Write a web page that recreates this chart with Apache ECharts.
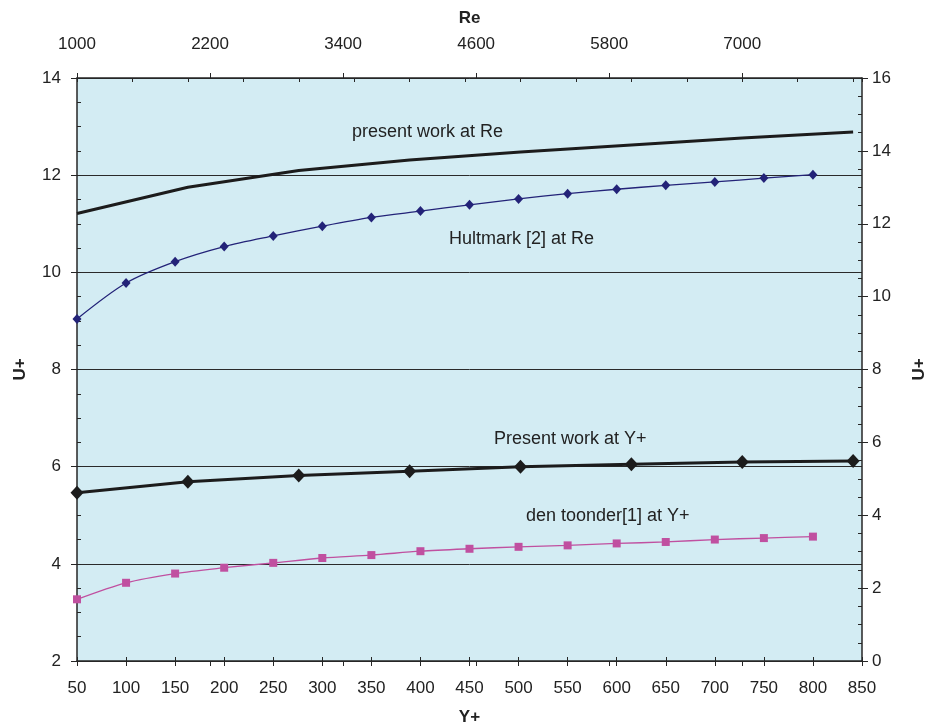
<!DOCTYPE html>
<html>
<head>
<meta charset="utf-8">
<script src="https://cdn.jsdelivr.net/npm/echarts@6/dist/echarts.min.js"></script>
<style>
  html, body { margin: 0; padding: 0; background: #ffffff; }
  #chart { width: 925px; height: 726px; }
</style>
</head>
<body>
<div id="chart"></div>
<script>
// Wall-unit velocity U+ versus Y+ (bottom axis) and Reynolds number (top axis)

// Y+ stations shared by the two reference data sets
const yPlus = [50, 100, 150, 200, 250, 300, 350, 400, 450, 500, 550, 600, 650, 700, 750, 800];
// Hultmark [2] at Re (left U+ axis)
const hultmark = [9.04, 9.78, 10.22, 10.53, 10.75, 10.95, 11.13, 11.26, 11.39, 11.51, 11.62, 11.71, 11.79, 11.86, 11.94, 12.01];
// den toonder [1] at Y+ (left U+ axis)
const denToonder = [3.27, 3.61, 3.80, 3.92, 4.02, 4.12, 4.18, 4.26, 4.31, 4.35, 4.38, 4.42, 4.45, 4.50, 4.53, 4.56];

// Reynolds numbers of the present computations (top axis)
const reValues = [1000, 2000, 3000, 4000, 5000, 6000, 7000, 8000];
// present work, right U+ axis
const presentAtRe = [12.28, 13.00, 13.46, 13.75, 13.97, 14.16, 14.35, 14.52];
const presentAtYPlus = [4.62, 4.92, 5.09, 5.21, 5.33, 5.40, 5.46, 5.49];

// axis ranges
const yPlusRange = [50, 850];
const reRange = [1000, 8080];
const leftRange = [2, 14];
const rightRange = [0, 16];

const FONT = 'Liberation Sans, Arial, sans-serif';
const AXIS_COLOR = '#262626';
const TEXT_COLOR = '#222222';

const pairs = (xs, ys) => xs.map((x, i) => [x, ys[i]]);

const labelStyle = { color: TEXT_COLOR, fontFamily: FONT, fontSize: 17 };
const nameStyle = { color: TEXT_COLOR, fontFamily: FONT, fontSize: 17, fontWeight: 'bold' };
const axisLine = { show: true, onZero: false, lineStyle: { color: AXIS_COLOR, width: 1.5 } };

const chart = echarts.init(document.getElementById('chart'), null, { renderer: 'canvas' });

chart.setOption({
  backgroundColor: '#ffffff',
  animation: false,
  grid: {
    left: 77, right: 63, top: 78, bottom: 65,
    containLabel: false, outerBoundsMode: 'none',
    show: true, backgroundColor: '#D3ECF3', borderWidth: 0
  },
  xAxis: [
    { // Y+ with labels
      type: 'value', position: 'bottom', min: yPlusRange[0], max: yPlusRange[1], interval: 50,
      name: 'Y+', nameLocation: 'middle', nameGap: 48, nameTextStyle: nameStyle,
      axisLine: axisLine,
      axisTick: { show: true, length: 5, lineStyle: { color: AXIS_COLOR } },
      axisLabel: Object.assign({ margin: 19 }, labelStyle),
      splitLine: { show: false }
    },
    { // Y+ inner tick half
      type: 'value', position: 'bottom', min: yPlusRange[0], max: yPlusRange[1], interval: 50,
      axisLine: { show: false },
      axisTick: { show: true, inside: true, length: 4, lineStyle: { color: AXIS_COLOR } },
      axisLabel: { show: false }, splitLine: { show: false }
    },
    { // Re with labels
      type: 'value', position: 'top', min: reRange[0], max: reRange[1], interval: 1200,
      name: 'Re', nameLocation: 'middle', nameGap: 51, nameTextStyle: nameStyle,
      axisLine: axisLine,
      axisTick: { show: true, length: 5, lineStyle: { color: AXIS_COLOR } },
      axisLabel: Object.assign({ margin: 25, showMaxLabel: false, formatter: v => String(v) }, labelStyle),
      splitLine: { show: false }
    },
    { // Re inner major ticks
      type: 'value', position: 'top', min: reRange[0], max: reRange[1], interval: 1200,
      axisLine: { show: false },
      axisTick: { show: true, inside: true, length: 5, lineStyle: { color: AXIS_COLOR } },
      axisLabel: { show: false }, splitLine: { show: false }
    },
    { // Re minor ticks every 500
      type: 'value', position: 'top', min: reRange[0], max: reRange[1], interval: 500,
      axisLine: { show: false },
      axisTick: { show: true, inside: true, length: 4, lineStyle: { color: AXIS_COLOR } },
      axisLabel: { show: false }, splitLine: { show: false }
    }
  ],
  yAxis: [
    { // left U+
      type: 'value', position: 'left', min: leftRange[0], max: leftRange[1], interval: 2,
      name: 'U+', nameLocation: 'middle', nameGap: 48, nameRotate: 90, nameTextStyle: nameStyle,
      axisLine: axisLine,
      axisTick: { show: true, length: 6, lineStyle: { color: AXIS_COLOR } },
      axisLabel: Object.assign({ margin: 16 }, labelStyle),
      splitLine: { show: true, lineStyle: { color: '#2a2a2a', width: 1 } }
    },
    { // left inner ticks
      type: 'value', position: 'left', min: leftRange[0], max: leftRange[1], interval: 2,
      axisLine: { show: false },
      axisTick: { show: true, inside: true, length: 4, lineStyle: { color: AXIS_COLOR } },
      minorTick: { show: true, splitNumber: 4, length: 4, lineStyle: { color: AXIS_COLOR } },
      axisLabel: { show: false }, splitLine: { show: false }
    },
    { // right U+
      type: 'value', position: 'right', min: rightRange[0], max: rightRange[1], interval: 2,
      name: 'U+', nameLocation: 'middle', nameGap: 49, nameRotate: 90, nameTextStyle: nameStyle,
      axisLine: axisLine,
      axisTick: { show: true, length: 6, lineStyle: { color: AXIS_COLOR } },
      axisLabel: Object.assign({ margin: 10 }, labelStyle),
      splitLine: { show: false }
    },
    { // right inner ticks
      type: 'value', position: 'right', min: rightRange[0], max: rightRange[1], interval: 2,
      axisLine: { show: false },
      axisTick: { show: true, inside: true, length: 4, lineStyle: { color: AXIS_COLOR } },
      minorTick: { show: true, splitNumber: 4, length: 4, lineStyle: { color: AXIS_COLOR } },
      axisLabel: { show: false }, splitLine: { show: false }
    }
  ],
  series: [
    {
      name: 'present work at Re', type: 'line', xAxisIndex: 2, yAxisIndex: 2,
      data: pairs(reValues, presentAtRe),
      showSymbol: false, symbol: 'none',
      lineStyle: { color: '#1c1c1c', width: 3 }, z: 5
    },
    {
      name: 'Hultmark [2] at Re', type: 'line', xAxisIndex: 0, yAxisIndex: 0,
      data: pairs(yPlus, hultmark), smooth: 0.3,
      symbol: 'diamond', symbolSize: [9, 10],
      itemStyle: { color: '#232378' },
      lineStyle: { color: '#232378', width: 1.3 }, z: 4
    },
    {
      name: 'Present work at Y+', type: 'line', xAxisIndex: 2, yAxisIndex: 2,
      data: pairs(reValues, presentAtYPlus),
      symbol: 'diamond', symbolSize: [13, 14],
      itemStyle: { color: '#1c1c1c' },
      lineStyle: { color: '#1c1c1c', width: 3 }, z: 5
    },
    {
      name: 'den toonder[1] at Y+', type: 'line', xAxisIndex: 0, yAxisIndex: 0,
      data: pairs(yPlus, denToonder), smooth: 0.3,
      symbol: 'rect', symbolSize: 8,
      itemStyle: { color: '#C050A0' },
      lineStyle: { color: '#C050A0', width: 1.3 }, z: 4
    }
  ],
  graphic: [
    { type: 'text', left: 352, top: 123, style: { text: 'present work at Re', fill: TEXT_COLOR, font: '18px ' + FONT } },
    { type: 'text', left: 449, top: 230, style: { text: 'Hultmark [2] at Re', fill: TEXT_COLOR, font: '18px ' + FONT } },
    { type: 'text', left: 494, top: 430, style: { text: 'Present work at Y+', fill: TEXT_COLOR, font: '18px ' + FONT } },
    { type: 'text', left: 526, top: 507, style: { text: 'den toonder[1] at Y+', fill: TEXT_COLOR, font: '18px ' + FONT } }
  ]
});
</script>
</body>
</html>
